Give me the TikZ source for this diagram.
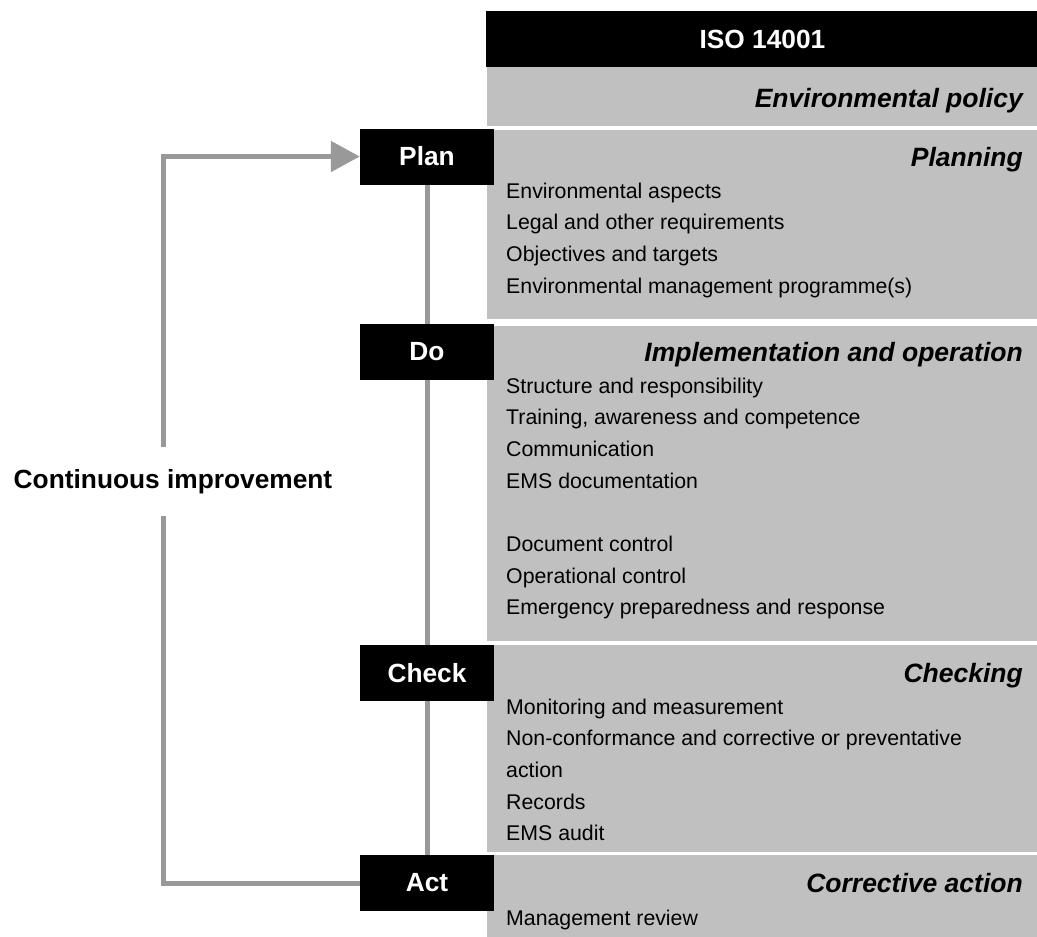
\documentclass[tikz,border=0pt]{standalone}
\usepackage{fontspec}
\setmainfont{Liberation Sans}
\usetikzlibrary{arrows.meta,backgrounds}

\definecolor{bandgray}{HTML}{C0C0C0}
\definecolor{linkgray}{HTML}{999999}

\tikzset{
  band/.style={fill=bandgray,draw=none},
  boldtext/.style={font=\fontsize{26.3}{30}\selectfont\bfseries},
  phase/.style={boldtext,fill=black,draw=none,text=white,inner sep=0pt,
    minimum width=134pt,minimum height=56pt},
  heading/.style={anchor=base east,inner sep=0pt,
    font=\fontsize{26.5}{30}\selectfont\bfseries\itshape},
  item/.style={anchor=base west,inner sep=0pt,
    font=\fontsize{21.3}{25}\selectfont},
  loopline/.style={draw=linkgray,line width=5pt},
}

\begin{document}
\begin{tikzpicture}[x=1pt,y=-1pt]
\useasboundingbox (0,0) rectangle (1037,937);

% title bar and section bands
\fill[black] (486,11) rectangle (1037,67);
\node[boldtext,text=white,inner sep=0pt] (iso) at (762.5,39) {ISO 14001};
\path[band] (487,67) rectangle (1037,126);
\path[band] (487,130) rectangle (1037,319);
\path[band] (487,326) rectangle (1037,641);
\path[band] (487,645) rectangle (1037,852);
\path[band] (487,855) rectangle (1037,937);

% PDCA phase boxes
\node[phase] (plan)  at (427,156.5) {Plan};
\node[phase] (do)    at (427,352)   {Do};
\node[phase] (check) at (427,673)   {Check};
\node[phase] (act)   at (427,883)   {Act};

% spine joining the phases
\begin{scope}[on background layer]
  \draw[loopline] (plan.south) -- (act.north);
\end{scope}

% section headings
\node[heading] (hpol)  at (1023,107)   {Environmental policy};
\node[heading] (hplan) at (1023,166)   {Planning};
\node[heading] (hdo)   at (1023,361.5) {Implementation and operation};
\node[heading] (hchk)  at (1023,682.5) {Checking};
\node[heading] (hact)  at (1023,892.5) {Corrective action};

% section contents
\foreach \t/\k in {{Environmental aspects}/0,{Legal and other requirements}/1,
  {Objectives and targets}/2,{Environmental management programme(s)}/3}
  \node[item] (pl\k) at (506,198+31.7*\k) {\t};

\foreach \t/\k in {{Structure and responsibility}/0,{Training, awareness and competence}/1,
  {Communication}/2,{EMS documentation}/3,{Document control}/5,
  {Operational control}/6,{Emergency preparedness and response}/7}
  \node[item] (im\k) at (506,393+31.7*\k) {\t};

\foreach \t/\k in {{Monitoring and measurement}/0,{Non-conformance and corrective or preventative}/1,
  {action}/2,{Records}/3,{EMS audit}/4}
  \node[item] (ck\k) at (506,714+31.7*\k) {\t};

\node[item] (ac0) at (506,925) {Management review};

% continuous improvement loop
\node[boldtext,inner sep=0pt,minimum height=69pt] (ci) at (173,481.5) {Continuous improvement};
\coordinate (cibot) at (163,516);
\coordinate (citop) at (163,447);
\draw[loopline] (act.west) -| (cibot);
\draw[loopline,-{Triangle[length=29pt,width=30pt]}] (citop) |- (plan.west);

\end{tikzpicture}
\end{document}
